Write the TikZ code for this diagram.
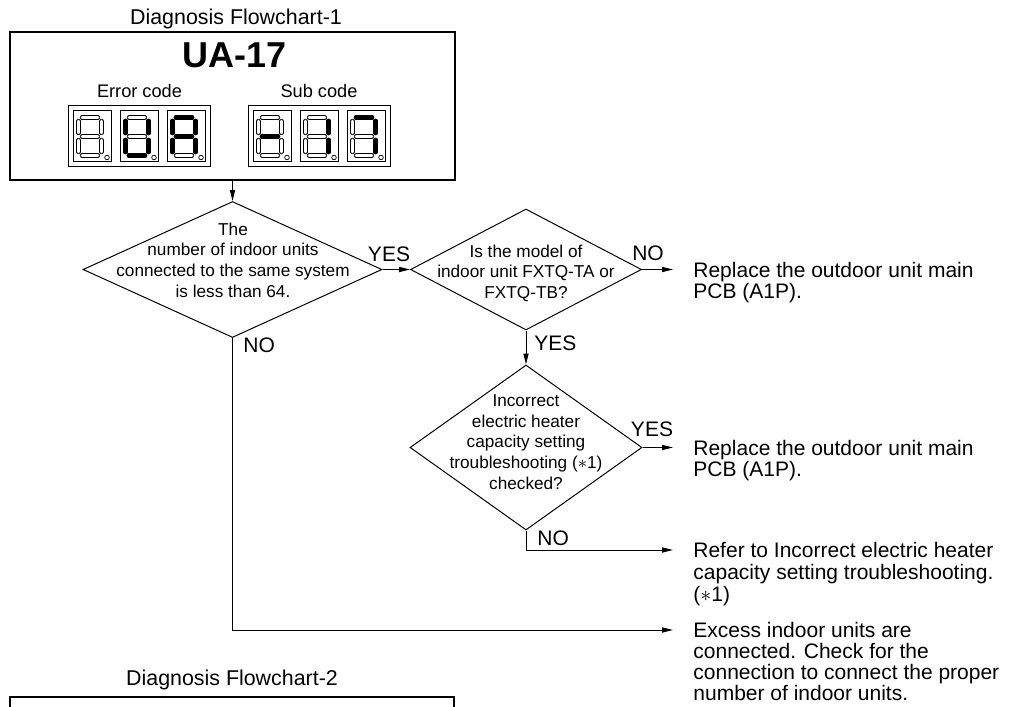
\documentclass[tikz,border=0pt]{standalone}
\usepackage{fontspec}
\setmainfont{Liberation Sans}
\usetikzlibrary{shapes.geometric,arrows.meta}

\tikzset{
  dia/.style={draw,diamond,inner sep=0pt,line width=.5pt},
  dtxt/.style={align=center,inner sep=0pt,font=\fontsize{8.6}{10.3}\selectfont},
  txt/.style={align=left,anchor=north west,inner sep=0pt,font=\fontsize{10.5}{10.4}\selectfont},
  lbl/.style={inner sep=0pt,font=\fontsize{10.5}{12}\selectfont},
  arr/.style={-{Triangle[length=5.5pt,width=2.6pt]},line width=.5pt},
  segoff/.style={double=white,double distance=1.5pt,line width=.35pt,line cap=round,shorten <=1.8pt,shorten >=1.8pt},
  segon/.style={line width=2.4pt,line cap=round,shorten <=1.8pt,shorten >=1.8pt},
}

\begin{document}
\begin{tikzpicture}[x=.5pt,y=-.5pt]
\useasboundingbox (0,0) rectangle (1013,707);

\node[font=\fontsize{10.7}{12}\selectfont] (title1) at (236,19) {Diagnosis Flowchart-1};
\node[draw,line width=.65pt,minimum width=222.5pt,minimum height=74pt,inner sep=0pt] (box1) at (232.5,106) {};
\node[font=\bfseries\fontsize{18}{20}\selectfont,inner sep=0pt] (code) at (235,55) {UA-17};
\node[font=\fontsize{9.1}{10}\selectfont,inner sep=0pt] (errlbl) at (139.5,91) {Error code};
\node[font=\fontsize{9.1}{10}\selectfont,inner sep=0pt] (sublbl) at (319,91) {Sub code};

\draw[line width=.5pt] (68,105) rectangle (210,166) (248,105) rectangle (390,166);
\foreach \dx[count=\i] in {73,120,167,253,300,347} {
  \begin{scope}[shift={(\dx,110)}]
    \draw[line width=.4pt] (0,0) rectangle (38,51);
    \coordinate (dig\i-tl) at (5.5,7.5);
    \coordinate (dig\i-tr) at (28.5,7.5);
    \coordinate (dig\i-ml) at (5.5,26.5);
    \coordinate (dig\i-mr) at (28.5,26.5);
    \coordinate (dig\i-bl) at (5.5,45.5);
    \coordinate (dig\i-br) at (28.5,45.5);
    \foreach \p/\q in {tl/tr,tr/mr,mr/br,bl/br,ml/bl,tl/ml,ml/mr}
      \draw[segoff] (dig\i-\p) -- (dig\i-\q);
    \draw[line width=.35pt] (34,47.5) circle[radius=1.15pt];
  \end{scope}
}
\foreach \p/\q in {2-tr/2-mr,2-mr/2-br,2-bl/2-br,2-ml/2-bl,2-tl/2-ml,
                   3-tl/3-tr,3-tr/3-mr,3-mr/3-br,3-ml/3-bl,3-tl/3-ml,3-ml/3-mr,
                   4-ml/4-mr,5-tr/5-mr,5-mr/5-br,6-tl/6-tr,6-tr/6-mr,6-mr/6-br}
  \draw[segon] (dig\p) -- (dig\q);

\node[dia,minimum width=149.5pt,minimum height=68pt] (chk1) at (232.5,269.5) {};
\node[dtxt] (chk1txt) at (233,260) {The\\number of indoor units\\connected to the same system\\is less than 64.};
\node[dia,minimum width=115.5pt,minimum height=60.5pt] (chk2) at (526,269.5) {};
\node[dtxt] (chk2txt) at (526,273) {Is the model of\\indoor unit FXTQ-TA or\\FXTQ-TB?};
\node[dia,minimum width=116pt,minimum height=82.5pt] (chk3) at (526,447.5) {};
\node[dtxt] (chk3txt) at (526,442) {Incorrect\\electric heater\\capacity setting\\troubleshooting (\ensuremath{\ast}1)\\checked?};

\node[txt] (pcb1) at (693,261.8) {Replace the outdoor unit main\\PCB (A1P).};
\node[txt] (pcb2) at (693,439.8) {Replace the outdoor unit main\\PCB (A1P).};
\node[txt,font=\fontsize{10.5}{10.9}\selectfont] (heater) at (693,542.3) {Refer to Incorrect electric heater\\capacity setting troubleshooting.\\(\ensuremath{\ast}1)};
\node[txt] (excess) at (693,622.3) {Excess indoor units are\\connected. Check for the\\connection to connect the proper\\number of indoor units.};

\node[lbl] (yes1) at (389,254) {YES};
\node[lbl] (no1) at (648,253) {NO};
\node[lbl,anchor=west] (yes2) at (534,343) {YES};
\node[lbl] (yes3) at (652,429) {YES};
\node[lbl,anchor=west] (no3) at (537,538) {NO};
\node[lbl,anchor=west] (no2) at (243,345) {NO};

\draw[arr] (box1.south) -- (chk1.north);
\draw[arr] (chk1.east) -- (chk2.west);
\draw[arr] (chk2.east) -- ([xshift=-10pt,yshift=-3.85pt]pcb1.north west);
\draw[arr] (chk2.south) -- (chk3.north);
\draw[arr] (chk3.east) -- ([xshift=-10pt,yshift=-3.85pt]pcb2.north west);
\draw[arr] (chk3.south) |- ([xshift=-10pt,yshift=-3.85pt]heater.north west);
\draw[arr] (chk1.south) |- ([xshift=-10pt,yshift=-3.85pt]excess.north west);

\node[font=\fontsize{10.7}{12}\selectfont] (title2) at (232,680) {Diagnosis Flowchart-2};
\draw[line width=.65pt] (10,707) -- (10,697) -- (454,697) -- (454,707);
\end{tikzpicture}
\end{document}
